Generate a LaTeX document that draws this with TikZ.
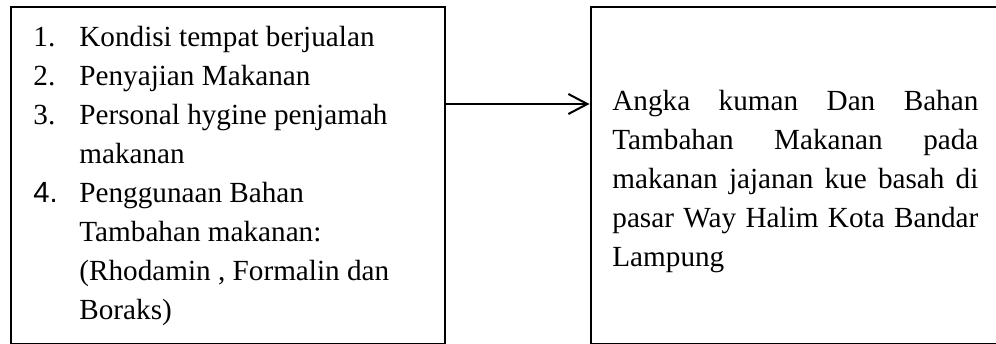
\documentclass[tikz,border=0pt]{standalone}
\usepackage{fontspec}
\setmainfont{Liberation Serif}
\newfontfamily\numfont{Liberation Sans}
\usepackage{tikz}
\usepackage{xcolor}
\usetikzlibrary{arrows.meta,positioning}
\definecolor{ink}{HTML}{000000}
\tikzset{
  framebox/.style  ={draw=ink, line width=1pt, inner sep=0pt},
  itemtext/.style  ={inner sep=0pt, anchor=north west,
                     font=\fontsize{14.6}{19.5}\selectfont},
  resulttext/.style={inner sep=0pt, anchor=north west, text width=183pt,
                     align=justify, font=\fontsize{14.6}{19.5}\selectfont},
  flowarr/.style   ={-{Straight Barb[length=9.5pt,width=10pt,line width=1pt]}, line width=1pt, color=ink},
}

\begin{document}
\begin{tikzpicture}[x=0.5pt,y=-0.5pt]
    \useasboundingbox (0,0) rectangle (996,343);
    \clip (0,0) rectangle (996,343);

    \node[framebox,minimum width=217pt,minimum height=168.5pt] (lbox) at (227.5,175) {};
    \node[framebox,minimum width=207.25pt,minimum height=168.5pt] (rbox) at (797.75,175) {};

    \node[itemtext] (items) at (33,18.7) {%
      \begin{tabular}{@{}p{23pt}@{}l@{}}
        1. & Kondisi tempat berjualan\\
        2. & Penyajian Makanan\\
        3. & Personal hygine penjamah\\
           & makanan\\
        {\numfont 4.} & Penggunaan Bahan\\
           & Tambahan makanan:\\
           & (Rhodamin , Formalin dan\\
           & Boraks)
      \end{tabular}};
    \node[resulttext] (result) at (612,82.7) {\strut Angka kuman Dan Bahan\linebreak
      Tambahan Makanan pada\linebreak
      makanan jajanan kue basah di\linebreak
      pasar Way Halim Kota Bandar\linebreak
      Lampung};

    \coordinate (arrowy) at (0,104);
    \draw[flowarr] (lbox.east |- arrowy) -- (rbox.west |- arrowy);
  \end{tikzpicture}
\end{document}
